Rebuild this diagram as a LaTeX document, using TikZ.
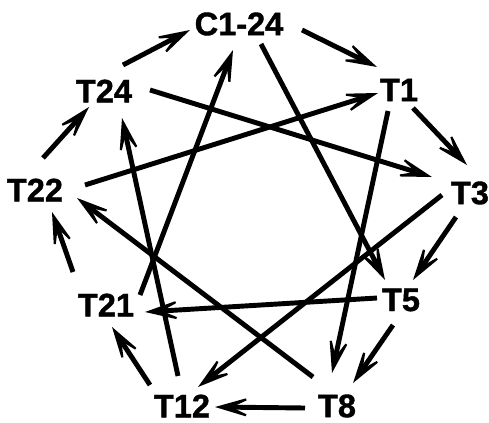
\documentclass[tikz,border=0pt]{standalone}
\usepackage{fontspec}
\setmainfont{Liberation Sans}[BoldFeatures={FakeBold=1.2}]
\usetikzlibrary{arrows.meta}

\begin{document}
\begin{tikzpicture}[
  x=0.02cm,y=-0.02cm,
  every node/.style={font=\fontsize{18.5}{20}\selectfont\bfseries,inner sep=0pt},
  flow/.style={-{Stealth[length=8.6mm,width=5mm,inset=5.2mm,line width=1.2pt]},line width=2.8pt}
]
  \useasboundingbox (0,0) rectangle (489,422);

  \node (c1)  at (239,24)  {C1-24};
  \node (t1)  at (399,90)  {T1};
  \node (t3)  at (470,193) {T3};
  \node (t5)  at (401,300) {T5};
  \node (t8)  at (337,406) {T8};
  \node (t12) at (182,406) {T12};
  \node (t21) at (106,305) {T21};
  \node (t22) at (35,190)  {T22};
  \node (t24) at (104,91)  {T24};

  % outer ring
  \draw[flow] ([shift={(63,6)}]c1.center)    -- ([shift={(-22,-23)}]t1.center);
  \draw[flow] ([shift={(14,18)}]t1.center)   -- ([shift={(-3,-28)}]t3.center);
  \draw[flow] ([shift={(-14,24)}]t3.center)  -- ([shift={(12,-20)}]t5.center);
  \draw[flow] ([shift={(-8,25)}]t5.center)   -- ([shift={(16,-23)}]t8.center);
  \draw[flow] ([shift={(-32,2)}]t8.center)   -- ([shift={(33,1)}]t12.center);
  \draw[flow] ([shift={(-32,-21)}]t12.center) -- ([shift={(6,22)}]t21.center);
  \draw[flow] ([shift={(-33,-33)}]t21.center) -- ([shift={(17,22)}]t22.center);
  \draw[flow] ([shift={(8,-32)}]t22.center)  -- ([shift={(-15,16)}]t24.center);
  \draw[flow] ([shift={(19,-26)}]t24.center) -- ([shift={(-49,6)}]c1.center);

  % inner star
  \draw[flow] ([shift={(22,20)}]c1.center)   -- ([shift={(-16,-20)}]t5.center);
  \draw[flow] ([shift={(-11,21)}]t1.center)  -- ([shift={(-5,-33)}]t8.center);
  \draw[flow] ([shift={(-28,2)}]t3.center)   -- ([shift={(16,-19)}]t12.center);
  \draw[flow] ([shift={(-24,-2)}]t5.center)  -- ([shift={(39,7)}]t21.center);
  \draw[flow] ([shift={(-24,-29)}]t8.center) -- ([shift={(42,8)}]t22.center);
  \draw[flow] ([shift={(-4,-30)}]t12.center) -- ([shift={(18,27)}]t24.center);
  \draw[flow] ([shift={(34,-10)}]t21.center) -- ([shift={(-6,26)}]c1.center);
  \draw[flow] ([shift={(50,-5)}]t22.center)  -- ([shift={(-21,3)}]t1.center);
  \draw[flow] ([shift={(46,-1)}]t24.center)  -- ([shift={(-38,-16)}]t3.center);
\end{tikzpicture}
\end{document}
